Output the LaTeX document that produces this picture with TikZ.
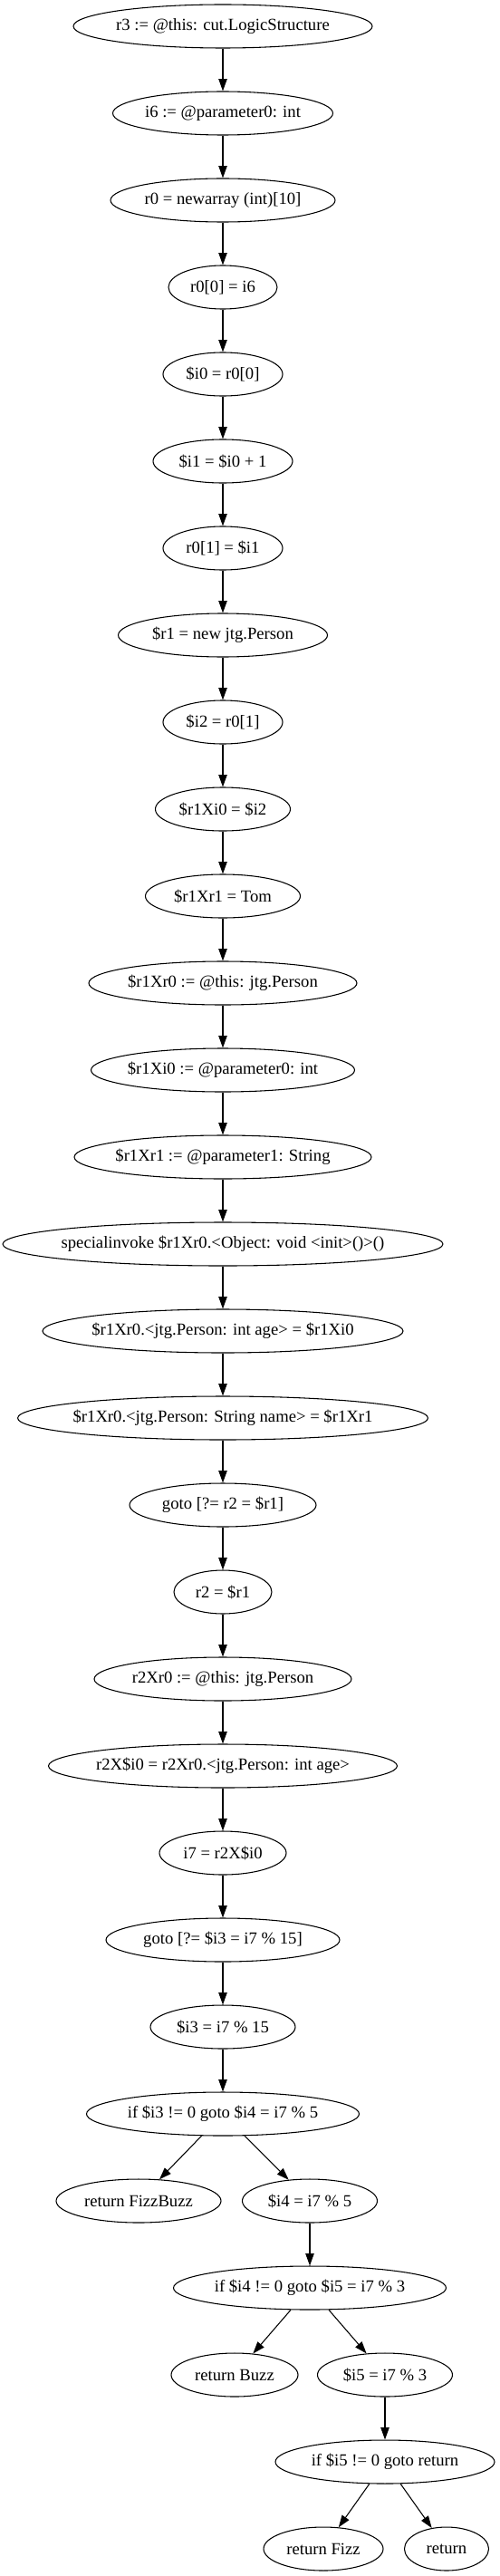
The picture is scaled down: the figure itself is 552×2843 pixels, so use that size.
\documentclass[tikz,border=0pt]{standalone}
\usepackage{fontspec}
\setmainfont{Liberation Serif}
\usetikzlibrary{shapes.geometric,arrows.meta}
\tikzset{
  nd/.style={draw, ellipse, line width=0.8pt, inner sep=0pt, minimum height=36pt,
    minimum width=#1*0.75pt, font=\fontsize{14}{16}\selectfont},
  arr/.style={line width=0.8pt, -{Triangle[length=10pt,width=7pt]}}
}
\newcommand{\tx}[1]{\makebox[0pt]{#1}}
\begin{document}
\begin{tikzpicture}[x=0.75pt,y=-0.75pt]
\useasboundingbox (0,0) rectangle (552,2843);
\node[nd=330] (n0) at (246,29) {\tx{r3 := @this: cut.LogicStructure}};
\node[nd=243] (n1) at (246,125) {\tx{i6 := @parameter0: int}};
\node[nd=248] (n2) at (246,221) {\tx{r0 = newarray (int)[10]}};
\node[nd=120] (n3) at (246,317) {\tx{r0[0] = i6}};
\node[nd=132] (n4) at (246,413) {\tx{\$i0 = r0[0]}};
\node[nd=154] (n5) at (246,509) {\tx{\$i1 = \$i0 + 1}};
\node[nd=132] (n6) at (246,605) {\tx{r0[1] = \$i1}};
\node[nd=231] (n7) at (246,701) {\tx{\$r1 = new jtg.Person}};
\node[nd=132] (n8) at (246,797) {\tx{\$i2 = r0[1]}};
\node[nd=149] (n9) at (246,893) {\tx{\$r1Xi0 = \$i2}};
\node[nd=171] (n10) at (246,989) {\tx{\$r1Xr1 = Tom}};
\node[nd=296] (n11) at (246,1085) {\tx{\$r1Xr0 := @this: jtg.Person}};
\node[nd=291] (n12) at (246,1181) {\tx{\$r1Xi0 := @parameter0: int}};
\node[nd=328] (n13) at (246,1277) {\tx{\$r1Xr1 := @parameter1: String}};
\node[nd=486] (n14) at (246,1373) {\tx{specialinvoke \$r1Xr0.<Object: void <init>()>()}};
\node[nd=398] (n15) at (246,1469) {\tx{\$r1Xr0.<jtg.Person: int age> = \$r1Xi0}};
\node[nd=453] (n16) at (246,1565) {\tx{\$r1Xr0.<jtg.Person: String name> = \$r1Xr1}};
\node[nd=206] (n17) at (246,1661) {\tx{goto [?= r2 = \$r1]}};
\node[nd=108] (n18) at (246,1757) {\tx{r2 = \$r1}};
\node[nd=284] (n19) at (246,1853) {\tx{r2Xr0 := @this: jtg.Person}};
\node[nd=385] (n20) at (246,1949) {\tx{r2X\$i0 = r2Xr0.<jtg.Person: int age>}};
\node[nd=140] (n21) at (246,2045) {\tx{i7 = r2X\$i0}};
\node[nd=258] (n22) at (246,2141) {\tx{goto [?= \$i3 = i7 \% 15]}};
\node[nd=160] (n23) at (246,2237) {\tx{\$i3 = i7 \% 15}};
\node[nd=301] (n24) at (246,2333) {\tx{if \$i3 != 0 goto \$i4 = i7 \% 5}};
\node[nd=182] (fb) at (153,2429) {\tx{return FizzBuzz}};
\node[nd=149] (n25) at (342,2429) {\tx{\$i4 = i7 \% 5}};
\node[nd=301] (n26) at (342,2525) {\tx{if \$i4 != 0 goto \$i5 = i7 \% 3}};
\node[nd=140] (bz) at (259,2621) {\tx{return Buzz}};
\node[nd=149] (n27) at (425,2621) {\tx{\$i5 = i7 \% 3}};
\node[nd=242] (n28) at (425,2717) {\tx{if \$i5 != 0 goto return}};
\node[nd=132] (fz) at (357,2813) {\tx{return Fizz}};
\node[nd=93] (rt) at (493,2813) {\tx{return}};
\foreach \a/\b in {n0/n1,n1/n2,n2/n3,n3/n4,n4/n5,n5/n6,n6/n7,n7/n8,n8/n9,n9/n10,
  n10/n11,n11/n12,n12/n13,n13/n14,n14/n15,n15/n16,n16/n17,n17/n18,n18/n19,n19/n20,
  n20/n21,n21/n22,n22/n23,n23/n24,n24/fb,n24/n25,n25/n26,n26/bz,n26/n27,n27/n28,
  n28/fz,n28/rt}
  \draw[arr] (\a) -- (\b);
\end{tikzpicture}
\end{document}
